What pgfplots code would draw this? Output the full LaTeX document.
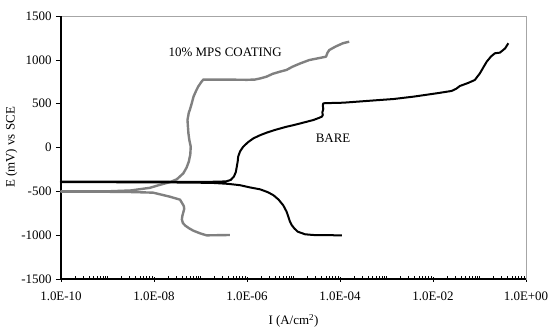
\documentclass[border=0pt]{standalone}
\usepackage{pgfplots}
\pgfplotsset{compat=1.18}
\usepackage{fontspec}
\setmainfont{Liberation Serif}
\definecolor{mpsgray}{RGB}{128,128,128}
\newcommand{\cf}{\fontsize{13}{15}\selectfont}
\begin{document}
\begin{tikzpicture}
\useasboundingbox (-61bp,-53bp) rectangle (491bp,279bp);
\begin{axis}[
  at={(0,0)}, anchor=south west,
  scale only axis, width=465bp, height=263bp,
  xmode=log, xmin=1e-10, xmax=1,
  ymin=-1500, ymax=1500,
  xtick={1e-10,1e-8,1e-6,1e-4,1e-2,1},
  xticklabels={1.0E-10,1.0E-08,1.0E-06,1.0E-04,1.0E-02,1.0E+00},
  minor xtick={2e-10,3e-10,4e-10,5e-10,6e-10,7e-10,8e-10,9e-10,1e-9,
    2e-9,3e-9,4e-9,5e-9,6e-9,7e-9,8e-9,9e-9,
    2e-8,3e-8,4e-8,5e-8,6e-8,7e-8,8e-8,9e-8,1e-7,
    2e-7,3e-7,4e-7,5e-7,6e-7,7e-7,8e-7,9e-7,
    2e-6,3e-6,4e-6,5e-6,6e-6,7e-6,8e-6,9e-6,1e-5,
    2e-5,3e-5,4e-5,5e-5,6e-5,7e-5,8e-5,9e-5,
    2e-4,3e-4,4e-4,5e-4,6e-4,7e-4,8e-4,9e-4,1e-3,
    2e-3,3e-3,4e-3,5e-3,6e-3,7e-3,8e-3,9e-3,
    2e-2,3e-2,4e-2,5e-2,6e-2,7e-2,8e-2,9e-2,1e-1,
    2e-1,3e-1,4e-1,5e-1,6e-1,7e-1,8e-1,9e-1},
  ytick={-1500,-1000,-500,0,500,1000,1500},
  yticklabels={-1500,-1000,-500,0,500,1000,1500},
  xtick pos=bottom, ytick pos=left,
  tick align=outside,
  major tick length=5bp, minor tick length=3.5bp,
  major x tick style={yshift=2.5bp},
  minor x tick style={yshift=3.5bp},
  every tick/.style={black, line width=0.6bp},
  axis line style={gray!70, line width=0.6bp},
  tick label style={font=\cf},
  label style={font=\cf},
  xticklabel style={yshift=-4bp},
  yticklabel style={xshift=-1bp},
  xlabel={I (A/cm\textsuperscript{2})},
  ylabel={E (mV) vs SCE},
  xlabel style={yshift=-7bp},
  ylabel style={yshift=-3bp},
  clip=false,
]
\draw[black, line width=1.2bp] (rel axis cs:0,1) -- (rel axis cs:0,0) -- (rel axis cs:1,0);
% 10% MPS coating
\addplot[mpsgray, line width=2.4bp, line join=round] coordinates {
(4.27e-7,-998) (2.51e-7,-1000) (1.35e-7,-1002) (9.77e-8,-979) (7.94e-8,-960)
(7.08e-8,-950) (5.62e-8,-920) (4.68e-8,-890) (4.17e-8,-860) (3.98e-8,-820)
(4.07e-8,-781) (4.27e-8,-740) (4.47e-8,-700) (4.37e-8,-667) (3.98e-8,-630)
(3.63e-8,-595) (2.19e-8,-561) (9.55e-9,-515) (3.16e-9,-508) (1e-9,-505) (1e-10,-504)
(1e-10,-500) (1e-9,-500) (3.16e-9,-490) (8.13e-9,-460) (1.26e-8,-430)
(2.19e-8,-395) (3.09e-8,-363) (4.27e-8,-295) (5.01e-8,-230) (5.62e-8,-160)
(6.03e-8,-80) (6.17e-8,9) (5.75e-8,86) (5.50e-8,162) (5.37e-8,237)
(5.25e-8,314) (5.62e-8,400) (5.89e-8,428) (6.46e-8,500) (7.08e-8,580)
(7.94e-8,640) (8.91e-8,694) (1.05e-7,750) (1.15e-7,775) (3.16e-7,775)
(1e-6,772) (1.48e-6,775) (2.0e-6,790) (2.63e-6,808) (3.55e-6,840)
(5.13e-6,865) (7.08e-6,885) (9.55e-6,922) (1.41e-5,960) (2.19e-5,998)
(3.55e-5,1020) (5.01e-5,1036) (5.37e-5,1080) (5.89e-5,1112) (7.94e-5,1150)
(1.15e-4,1189) (1.58e-4,1207)
};
% Bare
\addplot[black, line width=2bp, line join=round] coordinates {
(1.10e-4,-1002) (5.01e-5,-1000) (2.63e-5,-998) (1.78e-5,-990) (1.23e-5,-960)
(1.05e-5,-925) (9.12e-6,-884) (8.32e-6,-840) (7.76e-6,-790) (7.08e-6,-730)
(6.03e-6,-660) (4.79e-6,-595) (3.72e-6,-545) (2.82e-6,-510) (1.91e-6,-477)
(1.15e-6,-455) (7.08e-7,-430) (3.98e-7,-415) (2.0e-7,-405) (6.31e-8,-400)
(1e-8,-398) (1e-9,-396) (1e-10,-395)
(1e-10,-390) (1e-8,-390) (1e-7,-392) (2.51e-7,-390) (3.63e-7,-385)
(4.47e-7,-370) (5.25e-7,-330) (5.75e-7,-280) (6.03e-7,-220) (6.31e-7,-160)
(6.46e-7,-105) (7.08e-7,-45) (8.32e-7,10) (1.05e-6,60) (1.38e-6,105)
(1.91e-6,140) (2.63e-6,169) (3.98e-6,200) (7.08e-6,237) (1e-5,255)
(1.58e-5,282) (2.69e-5,314) (3.55e-5,338) (4.07e-5,352) (4.27e-5,370)
(4.17e-5,400) (4.37e-5,440) (4.27e-5,480) (4.37e-5,504) (5.01e-5,506)
(1.175e-4,511) (7.24e-4,542) (1.41e-3,553) (3.80e-3,580) (1.26e-2,620)
(2.51e-2,645) (3.16e-2,670) (3.80e-2,702) (5.62e-2,735) (7.94e-2,770)
(1.02e-1,846) (1.26e-1,930) (1.43e-1,979) (1.78e-1,1040) (2.15e-1,1075)
(2.75e-1,1082) (3.55e-1,1130) (4.17e-1,1189)
};
\node[font=\cf] at (axis cs:3.4e-7,1090) {10\% MPS COATING};
\node[font=\cf] at (axis cs:7.1e-5,108) {BARE};
\end{axis}
\end{tikzpicture}
\end{document}
